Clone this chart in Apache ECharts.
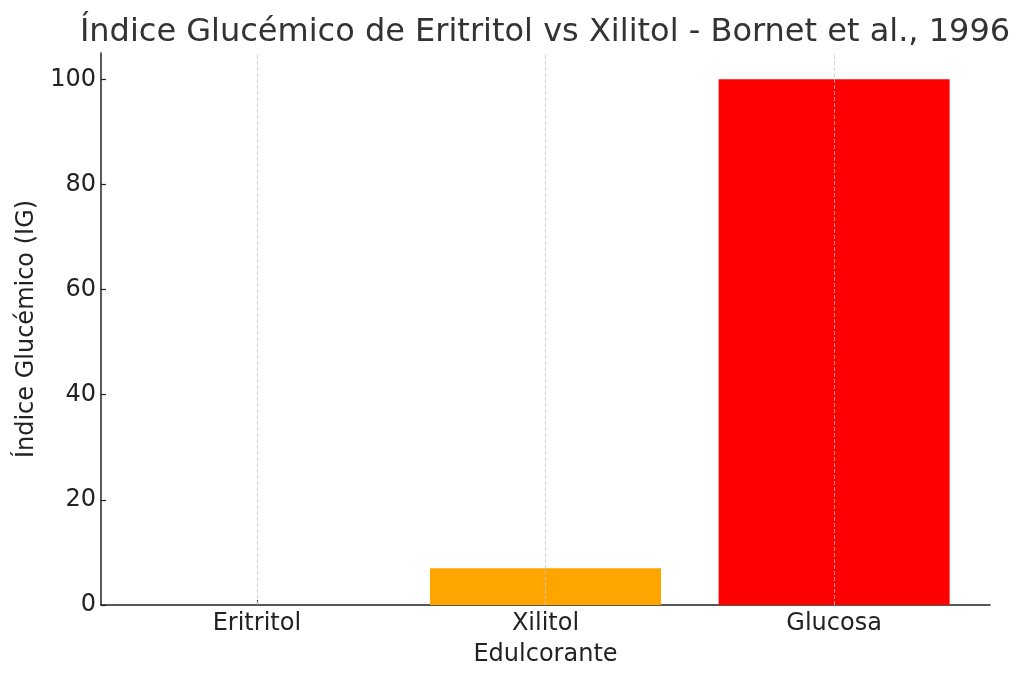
<!DOCTYPE html>
<html>
<head>
<meta charset="utf-8">
<script src="https://cdn.jsdelivr.net/npm/echarts@6/dist/echarts.min.js"></script>
<style>
  html, body { margin: 0; padding: 0; background: #fff; }
  #chart { width: 1024px; height: 682px; }
</style>
</head>
<body>
<div id="chart"></div>
<script>
// data
const categories = ['Eritritol', 'Xilitol', 'Glucosa'];
const values = [0, 7, 100];
const barColors = ['#1f77b4', '#FFA500', '#FF0000'];
const yTicks = [0, 20, 40, 60, 80, 100];

const font = 'DejaVu Sans';
const positions = categories.map((c, i) => i);

const chart = echarts.init(document.getElementById('chart'));

chart.setOption({
  animation: false,
  backgroundColor: '#fff',
  title: {
    text: 'Índice Glucémico de Eritritol vs Xilitol - Bornet et al., 1996',
    left: 540,
    top: 12,
    textAlign: 'center',
    textStyle: { fontFamily: font, fontSize: 32, fontWeight: 'normal', color: '#333' }
  },
  grid: { left: 101, right: 34, top: 53, bottom: 77 },
  xAxis: {
    type: 'value',
    min: -0.54,
    max: 2.54,
    name: 'Edulcorante',
    nameLocation: 'middle',
    nameGap: 38,
    nameTextStyle: { fontFamily: font, fontSize: 24, color: '#222' },
    axisLine: { show: true, onZero: false, lineStyle: { color: '#222', width: 1.5 } },
    axisTick: { show: true, inside: true, length: 5, customValues: positions, lineStyle: { color: '#222', width: 1.2 } },
    axisLabel: {
      customValues: positions,
      fontFamily: font, fontSize: 24, color: '#222', margin: 7,
      formatter: v => categories[Math.round(v)]
    },
    splitLine: { show: false }
  },
  yAxis: {
    type: 'value',
    min: 0,
    max: 105,
    name: 'Índice Glucémico (IG)',
    nameLocation: 'middle',
    nameGap: 62,
    nameTextStyle: { fontFamily: font, fontSize: 24, color: '#222' },
    axisLine: { show: true, onZero: false, lineStyle: { color: '#222', width: 1.5 } },
    axisTick: { show: true, inside: true, length: 5, customValues: yTicks, lineStyle: { color: '#222', width: 1.2 } },
    axisLabel: { customValues: yTicks, fontFamily: font, fontSize: 24, color: '#222', margin: 5, padding: [5, 0, 0, 0] },
    splitLine: { show: false }
  },
  series: [{
    type: 'bar',
    barWidth: 231,
    data: values.map((v, i) => ({ value: [i, v], itemStyle: { color: barColors[i] } })),
    markLine: {
      silent: true,
      symbol: 'none',
      label: { show: false },
      lineStyle: { color: '#c8c8c8', type: [4, 2], width: 0.8 },
      data: positions.map(p => ({ xAxis: p }))
    }
  }]
});
</script>
</body>
</html>
